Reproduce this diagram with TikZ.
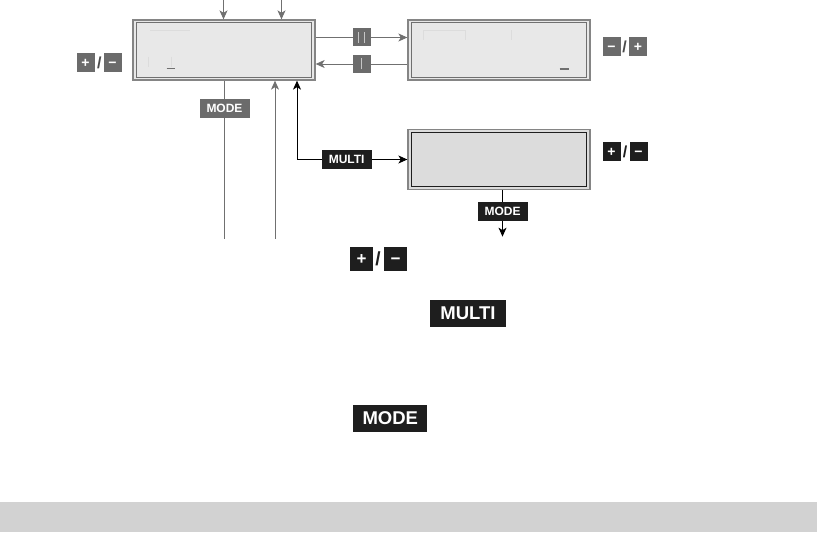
\documentclass[tikz,border=0pt]{standalone}
\usepackage{fontspec}
\setmainfont{Liberation Sans}
\usetikzlibrary{arrows.meta}

\definecolor{keygray}{HTML}{6B6B6B}
\definecolor{keyblack}{HTML}{1E1E1E}
\definecolor{lcdfill}{HTML}{E8E8E8}
\definecolor{lcddark}{HTML}{DCDCDC}
\definecolor{linegray}{HTML}{707070}
\definecolor{bandgray}{HTML}{D2D2D2}
\definecolor{ghost}{HTML}{DCDCDC}

\tikzset{
  lcd/.style={draw=linegray!85, line width=1.3pt, fill=lcdfill, inner sep=0pt,
    minimum width=182pt, minimum height=60pt},
  btn/.style={fill=#1, text=white, inner sep=0pt, minimum width=50pt, minimum height=19pt,
    font=\bfseries\fontsize{12}{12}\selectfont},
  bigbtn/.style={fill=keyblack, text=white, inner sep=0pt, minimum height=26.7pt,
    font=\bfseries\fontsize{18.5}{18.5}\selectfont},
  pmkey/.style={fill=#1, text=white, inner sep=0pt, minimum width=18pt, minimum height=19pt,
    text height=9.4pt, text depth=0pt, font=\bfseries\fontsize{14}{14}\selectfont},
  bigpm/.style={fill=keyblack, text=white, inner sep=0pt, minimum width=22.5pt, minimum height=24pt,
    text height=11.4pt, text depth=0pt, font=\bfseries\fontsize{17}{17}\selectfont},
  slash/.style={text=#1, inner sep=0pt, font=\bfseries\fontsize{16}{16}\selectfont},
  sqkey/.style={fill=keygray, text=gray!45, inner sep=0pt, minimum size=18pt},
}

\begin{document}
\begin{tikzpicture}[x=1pt,y=-1pt,>={Stealth[length=9pt,width=8pt,inset=2.5pt]},line width=0.9pt]
\useasboundingbox (0,0) rectangle (817,551);
\fill[bandgray] (0,502) rectangle (817,531.5);

% displays
\node[lcd] (disp1) at (224,50) {};
\node[lcd] (disp2) at (499,50) {};
\node[lcd, fill=lcddark] (disp3) at (499,159.5) {};
\draw[linegray, line width=1.2pt] ([shift={(4.5,3.5)}]disp1.north west) rectangle ([shift={(-4.5,-3.5)}]disp1.south east);
\draw[linegray, line width=1.2pt] ([shift={(4.5,3.5)}]disp2.north west) rectangle ([shift={(-4.5,-3.5)}]disp2.south east);
\draw[keyblack, line width=1.2pt] ([shift={(4.5,3.5)}]disp3.north west) rectangle ([shift={(-4.5,-3.5)}]disp3.south east);

% faint segments and cursors
\draw[ghost, line width=0.6pt] (150,30) -- (190,30) (148.5,57) -- (148.5,67) (171.5,57) -- (171.5,67);
\draw[linegray, line width=1.5pt] (166.5,68.5) -- (175,68.5);
\draw[ghost, line width=0.6pt] (423,30.5) -- (465,30.5) (423,30.5) -- (423,40) (465.5,30.5) -- (465.5,40) (511.5,30.5) -- (511.5,40);
\draw[linegray, line width=1.5pt] (559.5,69) -- (568.5,69);

% inputs from above
\coordinate (in1) at (223.5,0);
\coordinate (in2) at (281.5,0);
\draw[->, linegray] (in1) -- (in1 |- disp1.north);
\draw[->, linegray] (in2) -- (in2 |- disp1.north);

% left branch
\coordinate (out1) at (224.5,238.5);
\coordinate (ret1) at (275,238.5);
\draw[linegray] (disp1.south -| out1) -- node[btn=keygray, pos=0.175] (mode1) {MODE} (out1);
\draw[->, linegray] (ret1) -- (ret1 |- disp1.south);

% multi branch
\coordinate (mc) at (297,159.5);
\draw[->] (mc) -- (mc |- disp1.south);
\draw[->] (mc) -- node[btn=keyblack, pos=0.45] (multi1) {MULTI} (disp3.west);
\draw[->] ([xshift=3.5pt]disp3.south) -- node[btn=keyblack, pos=0.45] (mode3) {MODE} ++(0,46.5);

% between displays
\draw[->, linegray] ([yshift=12.5pt]disp1.east) -- node[sqkey] (fwd) {\rule{0.8pt}{11pt}\hspace{5pt}\rule{0.8pt}{11pt}} ([yshift=12.5pt]disp2.west);
\draw[->, linegray] ([yshift=-14pt]disp2.west) -- node[sqkey] (back) {\rule{0.8pt}{11pt}} ([yshift=-14pt]disp1.east);

% plus / minus keys
\node[pmkey=keygray] (plusL) at (85.5,63) {+};
\node[slash=keygray!70!black] (slL) at (99.3,63) {/};
\node[pmkey=keygray] (minusL) at (112.5,63) {−};

\node[pmkey=keygray] (minusR) at (611.5,46.5) {−};
\node[slash=keygray!70!black] (slR) at (624.5,46.5) {/};
\node[pmkey=keygray] (plusR) at (638,46.5) {+};

\node[pmkey=keyblack] (plusM) at (611.5,151.5) {+};
\node[slash=keyblack] (slM) at (625,151.5) {/};
\node[pmkey=keyblack] (minusM) at (638.5,151.5) {−};

% legend
\node[bigpm] (plusB) at (361.5,258.5) {+};
\node[slash=keyblack, font=\bfseries\fontsize{19}{19}\selectfont] (slB) at (378,258.5) {/};
\node[bigpm] (minusB) at (395.5,258.5) {−};
\node[bigbtn, minimum width=76pt] (multiB) at (468,313.3) {MULTI};
\node[bigbtn, minimum width=74pt] (modeB) at (390.3,418.3) {MODE};
\end{tikzpicture}
\end{document}
